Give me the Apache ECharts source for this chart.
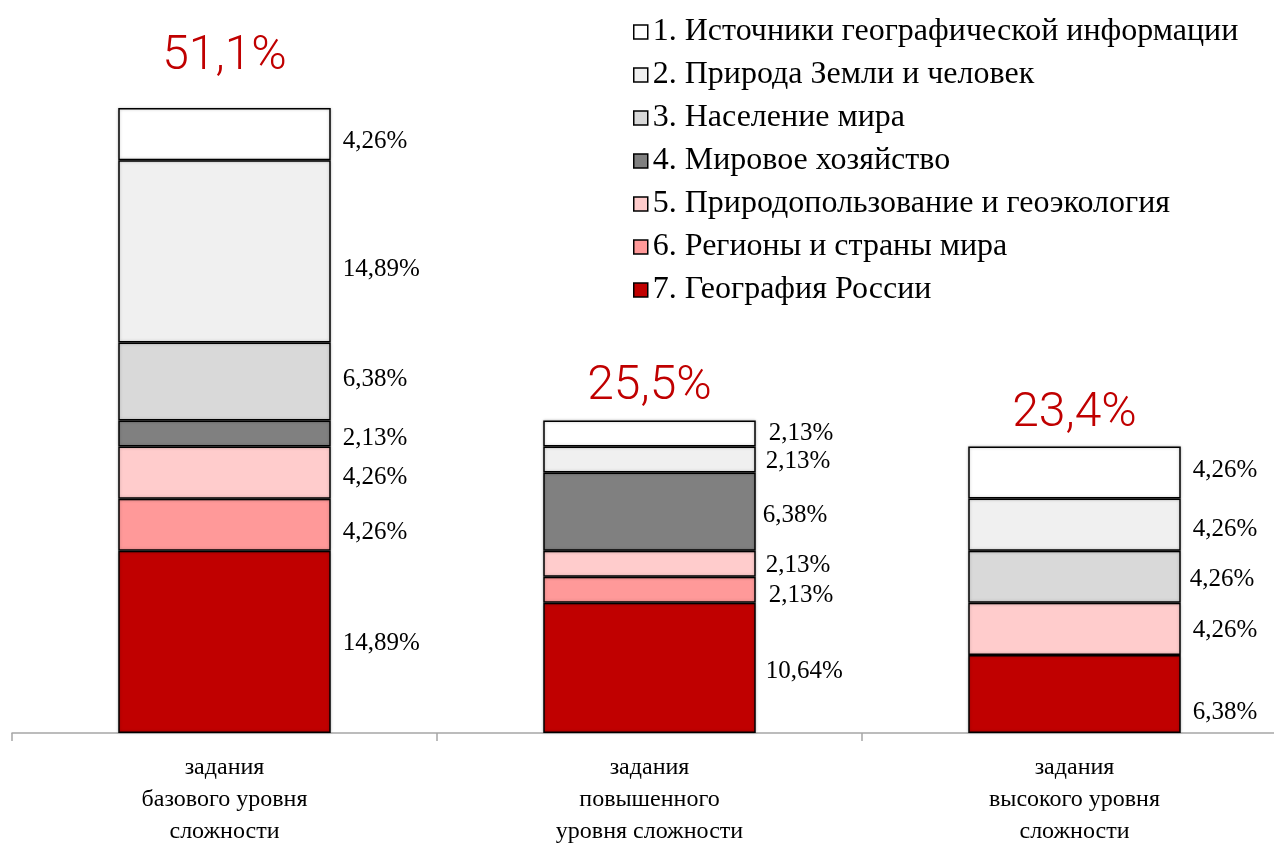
<!DOCTYPE html>
<html>
<head>
<meta charset="utf-8">
<script src="https://cdn.jsdelivr.net/npm/echarts@6/dist/echarts.min.js"></script>
<style>
  html, body { margin: 0; padding: 0; background: #fff; }
  #chart { width: 1274px; height: 844px; }
</style>
</head>
<body>
<div id="chart"></div>
<script>
// categories (x axis)
const categories = [
    'задания\nбазового уровня\nсложности',
    'задания\nповышенного\nуровня сложности',
    'задания\nвысокого уровня\nсложности'
];

const seriesNames = [
    '1. Источники географической информации',
    '2. Природа Земли и человек',
    '3. Население мира',
    '4. Мировое хозяйство',
    '5. Природопользование и геоэкология',
    '6. Регионы и страны мира',
    '7. География России'
];

// values per theme, % of tasks (0 = no segment)
const s1 = [4.26, 2.13, 4.26];
const s2 = [14.89, 2.13, 4.26];
const s3 = [6.38, 0, 4.26];
const s4 = [2.13, 6.38, 0];
const s5 = [4.26, 2.13, 4.26];
const s6 = [4.26, 2.13, 0];
const s7 = [14.89, 10.64, 6.38];

const colors = ['#ffffff', '#f0f0f0', '#d9d9d9', '#808080', '#ffcccc', '#ff9999', '#c00000'];

// hand-placed label nudges (px, vertical) like in the original, per series then category
const labelDy = [
    [7, 0, -2],
    [18, 2, 5],
    [-2, 0, 3],
    [5, 4, 0],
    [5, 2, 2],
    [8, 6, 0],
    [2, 4, 18]
];
const labelDx = [
    [0, 1, 0],
    [0, -2, 0],
    [0, 0, -3],
    [0, -5, 0],
    [0, -2, 0],
    [0, 1, 0],
    [0, -2, 0]
];
const totalDistance = [27, 9, 8];

const allValues = [s1, s2, s3, s4, s5, s6, s7];
const totals = categories.map((c, i) => allValues.reduce((a, s) => a + s[i], 0));

const fmt = v => v.toFixed(2).replace('.', ',') + '%';

const chart = echarts.init(document.getElementById('chart'));

// stack order from bottom: 7 ... 1
const series = [];
for (let k = 6; k >= 0; k--) {
    series.push({
        name: seriesNames[k],
        type: 'bar',
        stack: 'all',
        barWidth: '50%',
        data: allValues[k].map((v, i) => ({
            value: v === 0 ? null : v,
            label: { offset: [labelDx[k][i], labelDy[k][i]] }
        })),
        itemStyle: {
            color: colors[k],
            borderColor: '#000',
            borderWidth: 1.5,
            shadowBlur: 3,
            shadowColor: 'rgba(0,0,0,0.25)'
        },
        label: {
            show: true,
            position: 'right',
            distance: 12,
            fontFamily: 'Liberation Serif',
            fontSize: 25,
            color: '#000',
            formatter: p => p.value ? fmt(p.value) : ''
        },
        emphasis: { disabled: true }
    });
}

// invisible top segment carrying the total label
series.push({
    name: 'total',
    type: 'bar',
    stack: 'all',
    barWidth: '50%',
    data: totals.map((t, i) => ({ value: 0, label: { distance: totalDistance[i] } })),
    itemStyle: { color: 'transparent', borderWidth: 0 },
    label: {
        show: true,
        position: 'top',
        fontFamily: 'Roboto',
        fontWeight: 300,
        fontSize: 48,
        color: '#c00000',
        formatter: p => totals[p.dataIndex].toFixed(1).replace('.', ',') + '%'
    },
    emphasis: { disabled: true }
});

chart.setOption({
    animation: false,
    legend: {
        data: seriesNames,
        orient: 'vertical',
        left: 628,
        top: 11,
        icon: 'rect',
        itemWidth: 14,
        itemHeight: 14,
        itemGap: 11,
        selectedMode: false,
        itemStyle: { borderColor: '#000', borderWidth: 1.5 },
        textStyle: {
            fontFamily: 'Liberation Serif',
            fontSize: 32,
            color: '#000'
        }
    },
    grid: {
        left: 12,
        right: -13,
        top: 60,
        height: 673,
        outerBoundsMode: 'none'
    },
    xAxis: {
        type: 'category',
        data: categories,
        axisLine: { lineStyle: { color: '#a6a6a6', width: 1.5 } },
        axisTick: { show: true, length: 8, lineStyle: { color: '#a6a6a6', width: 1.5 } },
        axisLabel: {
            margin: 19,
            fontFamily: 'Liberation Serif',
            fontSize: 24,
            lineHeight: 32,
            color: '#000'
        }
    },
    yAxis: {
        type: 'value',
        min: 0,
        max: 55,
        show: false,
        splitLine: { show: false }
    },
    series: series
});
</script>
</body>
</html>
